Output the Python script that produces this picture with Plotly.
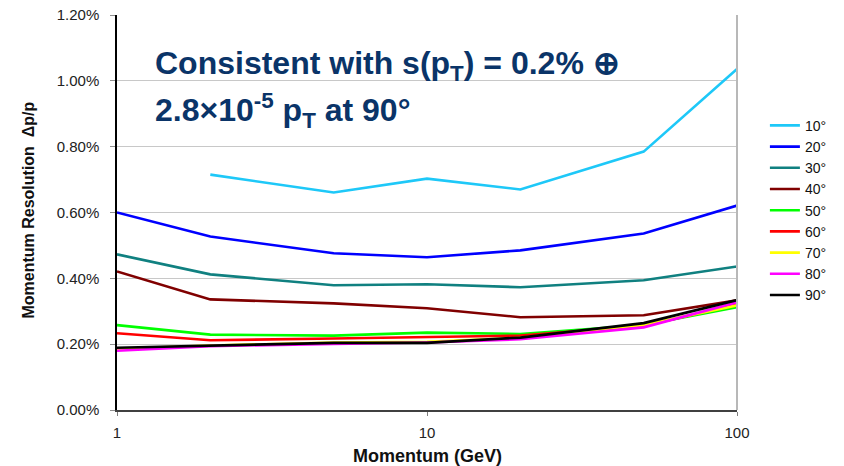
import plotly.graph_objects as go

momentum = [1, 2, 5, 10, 20, 50, 100]
angles = ["10°", "20°", "30°", "40°", "50°", "60°", "70°", "80°", "90°"]
colors = ["#1ec8f8", "#0000ff", "#108080", "#800000", "#00ff00",
          "#ff0000", "#ffff00", "#ff00ff", "#000000"]

res_10 = [None, 0.715, 0.661, 0.703, 0.670, 0.785, 1.036]
res_20 = [0.600, 0.527, 0.476, 0.464, 0.485, 0.536, 0.621]
res_30 = [0.473, 0.412, 0.379, 0.382, 0.373, 0.394, 0.436]
res_40 = [0.421, 0.336, 0.324, 0.309, 0.282, 0.288, 0.333]
res_50 = [0.258, 0.229, 0.226, 0.235, 0.231, 0.258, 0.312]
res_60 = [0.233, 0.212, 0.217, 0.222, 0.226, 0.255, 0.321]
res_70 = [0.186, 0.196, 0.205, 0.207, 0.219, 0.258, 0.318]
res_80 = [0.180, 0.194, 0.201, 0.205, 0.215, 0.251, 0.327]
res_90 = [0.189, 0.196, 0.204, 0.204, 0.220, 0.264, 0.334]
series = [res_10, res_20, res_30, res_40, res_50, res_60, res_70, res_80, res_90]

y_ticks = [0.0, 0.2, 0.4, 0.6, 0.8, 1.0, 1.2]
y_labels = [f"{v:.2f}%" for v in y_ticks]
x_ticks = [1, 10, 100]
x_labels = [str(v) for v in x_ticks]

fig = go.Figure()
for name, col, vals in zip(angles, colors, series):
    fig.add_trace(go.Scatter(
        x=momentum, y=vals, name=name, mode="lines",
        line=dict(color=col, width=2.6),
        connectgaps=False,
    ))

fig.update_layout(
    width=844, height=466,
    margin=dict(l=117, r=107, t=15, b=56),
    paper_bgcolor="white", plot_bgcolor="white",
    font=dict(family="Arial, Liberation Sans, sans-serif", color="#222222"),
    showlegend=True,
    legend=dict(
        x=1.045, y=0.76, xanchor="left", yanchor="top",
        font=dict(size=14, color="#111111"),
        itemwidth=30, bgcolor="rgba(0,0,0,0)",
    ),
    xaxis=dict(
        type="log", range=[0, 2], tickvals=x_ticks, ticktext=x_labels,
        showgrid=False, showline=True, linecolor="#404040", linewidth=1.5,
        ticks="outside", ticklen=4, tickcolor="#808080",
        tickfont=dict(size=15), zeroline=False, automargin=False,
        ticklabelstandoff=4,
    ),
    yaxis=dict(
        range=[0, 1.2], tickvals=y_ticks, ticktext=y_labels,
        showgrid=True, gridcolor="#c8c8c8", gridwidth=1,
        showline=True, linecolor="#000000", linewidth=1.5,
        ticks="outside", ticklen=5, tickcolor="#909090",
        tickfont=dict(size=15), zeroline=False, automargin=False,
        ticklabelstandoff=8,
    ),
    shapes=[dict(type="line", xref="paper", yref="paper", x0=1, x1=1, y0=0, y1=1,
                 line=dict(color="#b8b8b8", width=2))],
    annotations=[
        dict(xref="paper", yref="paper", x=0.5, y=-0.1165, xanchor="center", yanchor="middle",
             showarrow=False, text="<b>Momentum (GeV)</b>",
             font=dict(size=18, color="#111111")),
        dict(xref="paper", yref="paper", x=-0.1435, y=0.505, xanchor="center", yanchor="middle",
             showarrow=False, textangle=-90, text="<b>Momentum Resolution  Δp/p</b>",
             font=dict(size=16, color="#111111")),
        dict(xref="paper", yref="paper", x=0.058, y=0.929, xanchor="left", yanchor="top",
             align="left", showarrow=False,
             text="<b>Consistent with s(p<sub>T</sub>) = 0.2% ⊕</b>",
             font=dict(size=32, color="#0a3468", family="Arial, Liberation Sans, sans-serif")),
        dict(xref="paper", yref="paper", x=0.058, y=0.82, xanchor="left", yanchor="top",
             align="left", showarrow=False,
             text="<b>2.8×10<sup>-5</sup> p<sub>T</sub> at 90°</b>",
             font=dict(size=32, color="#0a3468", family="Arial, Liberation Sans, sans-serif")),
    ],
)

fig.write_html("out.html", config={"displayModeBar": False},
               post_script="document.body.style.margin='0';document.body.style.overflow='hidden';")
